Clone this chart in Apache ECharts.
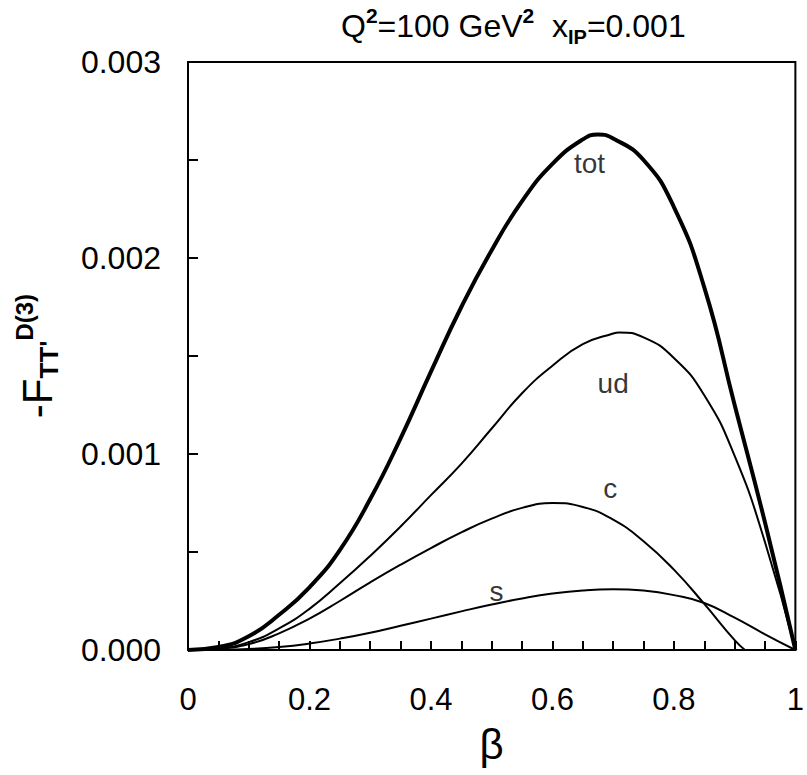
<!DOCTYPE html>
<html>
<head>
<meta charset="utf-8">
<script src="https://cdn.jsdelivr.net/npm/echarts@6/dist/echarts.min.js"></script>
<style>html,body{margin:0;padding:0;background:#fff}#c{width:807px;height:775px}</style>
</head>
<body>
<div id="c"></div>
<script>
// tot (thick curve)
const totBeta = [0, 0.05, 0.1, 0.15, 0.2, 0.25, 0.3, 0.35, 0.4, 0.45, 0.5, 0.55, 0.6, 0.65, 0.675, 0.7, 0.75, 0.8, 0.85, 0.9, 0.95, 1.0];
const totVals = [0, 0.000015, 0.00007, 0.00018, 0.00032, 0.00051, 0.00077, 0.00108, 0.00142, 0.00175, 0.00204, 0.00229, 0.00248, 0.002605, 0.00263, 0.00261, 0.0025, 0.00226, 0.00185, 0.00125, 0.00065, 0];
// ud
const udBeta = [0, 0.05, 0.1, 0.15, 0.2, 0.25, 0.3, 0.35, 0.4, 0.45, 0.5, 0.55, 0.6, 0.65, 0.7, 0.71, 0.75, 0.8, 0.85, 0.9, 0.95, 1.0];
const udVals = [0, 0.000008, 0.00004, 0.00011, 0.00021, 0.00034, 0.00048, 0.00063, 0.00079, 0.00095, 0.00113, 0.00131, 0.00145, 0.00156, 0.001615, 0.00162, 0.001595, 0.00149, 0.0013, 0.00099, 0.00055, 0];
// c (threshold near beta = 0.917)
const cBeta = [0, 0.05, 0.1, 0.15, 0.2, 0.25, 0.3, 0.35, 0.4, 0.45, 0.5, 0.55, 0.6, 0.65, 0.7, 0.75, 0.8, 0.85, 0.9, 0.917];
const cVals = [0, 0.000006, 0.00003, 0.000085, 0.00016, 0.00025, 0.000345, 0.000435, 0.00052, 0.0006, 0.00067, 0.000725, 0.00075, 0.00073, 0.000665, 0.000555, 0.00041, 0.000235, 0.00005, 0];
// s
const sBeta = [0, 0.05, 0.1, 0.15, 0.2, 0.25, 0.3, 0.35, 0.4, 0.45, 0.5, 0.55, 0.6, 0.65, 0.7, 0.75, 0.8, 0.85, 0.9, 0.95, 1.0];
const sVals = [0, 0.000001, 0.000005, 0.000015, 0.000033, 0.000058, 0.000088, 0.000124, 0.00016, 0.000197, 0.000232, 0.000263, 0.000288, 0.000304, 0.00031, 0.000303, 0.00028, 0.00024, 0.000165, 0.00008, 0];
// curve annotations [beta, value, text]
const curveLabels = [[0.661, 0.002483, 'tot'], [0.70, 0.00136, 'ud'], [0.695, 0.000825, 'c'], [0.508, 0.000297, 's']];
const xTicks = ['0', '0.2', '0.4', '0.6', '0.8', '1'];

const pair = (xs, ys) => xs.map((x, i) => [x, ys[i]]);
const FONT = 'Liberation Sans, Arial, sans-serif';

const chart = echarts.init(document.getElementById('c'), null, {renderer: 'svg'});
chart.setOption({
  animation: false,
  backgroundColor: '#fff',
  title: {
    text: '{b|Q}{sup|2}{b|=100 GeV}{sup|2}{b|  x}{sub|IP}{b|=0.001}',
    left: 336, top: 0,
    textStyle: {
      fontFamily: FONT, fontSize: 32, fontWeight: 'normal', color: '#000',
      rich: {
        b: {fontFamily: FONT, fontSize: 32, fontWeight: 'normal', color: '#000', lineHeight: 42, verticalAlign: 'middle'},
        sup: {fontFamily: FONT, fontSize: 21, fontWeight: 'bold', color: '#000', lineHeight: 32, verticalAlign: 'top'},
        sub: {fontFamily: FONT, fontSize: 20, fontWeight: 'bold', color: '#000', lineHeight: 27, verticalAlign: 'bottom'}
      }
    }
  },
  grid: {left: 188, right: 7, top: 62, bottom: 125, show: true, borderColor: '#000', borderWidth: 2, backgroundColor: 'transparent'},
  xAxis: {
    type: 'value', min: 0, max: 1, interval: 0.2,
    name: 'β', nameLocation: 'middle', nameGap: 72,
    nameTextStyle: {fontFamily: FONT, fontSize: 42, color: '#000', lineHeight: 44},
    axisLine: {show: true, lineStyle: {color: '#000', width: 2}},
    axisTick: {show: true, inside: true, length: 9, lineStyle: {color: '#000', width: 2}},
    minorTick: {show: true, splitNumber: 4, length: 9, lineStyle: {color: '#000', width: 2}},
    splitLine: {show: false},
    axisLabel: {fontFamily: FONT, fontSize: 31, color: '#000', margin: 34, showMinLabel: true, showMaxLabel: true,
      formatter: v => xTicks[Math.round(v / 0.2)]}
  },
  yAxis: {
    type: 'value', min: 0, max: 0.003, interval: 0.001,
    name: "{b|-F}{sub|TT'}{sup|D(3)}", nameLocation: 'middle', nameGap: 126,
    nameTextStyle: {
      rich: {
        b: {fontFamily: FONT, fontSize: 42, color: '#000', lineHeight: 50, verticalAlign: 'middle'},
        sub: {fontFamily: FONT, fontSize: 26, fontWeight: 'bold', color: '#000', lineHeight: 26, verticalAlign: 'bottom'},
        sup: {fontFamily: FONT, fontSize: 24, fontWeight: 'bold', color: '#000', lineHeight: 22, verticalAlign: 'top'}
      }
    },
    axisLine: {show: true, lineStyle: {color: '#000', width: 2}},
    axisTick: {show: true, inside: true, length: 10, lineStyle: {color: '#000', width: 2}},
    minorTick: {show: true, splitNumber: 2, length: 10, lineStyle: {color: '#000', width: 2}},
    splitLine: {show: false},
    axisLabel: {fontFamily: FONT, fontSize: 32, color: '#000', margin: 27, showMinLabel: true, showMaxLabel: true,
      formatter: v => v.toFixed(3)}
  },
  series: [
    {name: 'tot', type: 'line', data: pair(totBeta, totVals), smooth: 0.5, showSymbol: false, lineStyle: {color: '#000', width: 4}},
    {name: 'ud', type: 'line', data: pair(udBeta, udVals), smooth: 0.5, showSymbol: false, lineStyle: {color: '#000', width: 2}},
    {name: 'c', type: 'line', data: pair(cBeta, cVals), smooth: 0.5, showSymbol: false, lineStyle: {color: '#000', width: 2}},
    {name: 's', type: 'line', data: pair(sBeta, sVals), smooth: 0.5, showSymbol: false, lineStyle: {color: '#000', width: 2}},
    {name: 'labels', type: 'scatter', symbolSize: 0, silent: true, data: curveLabels,
      label: {show: true, position: 'inside', formatter: p => p.value[2], fontFamily: FONT, fontSize: 28, color: '#000'}}
  ]
});
</script>
</body>
</html>
